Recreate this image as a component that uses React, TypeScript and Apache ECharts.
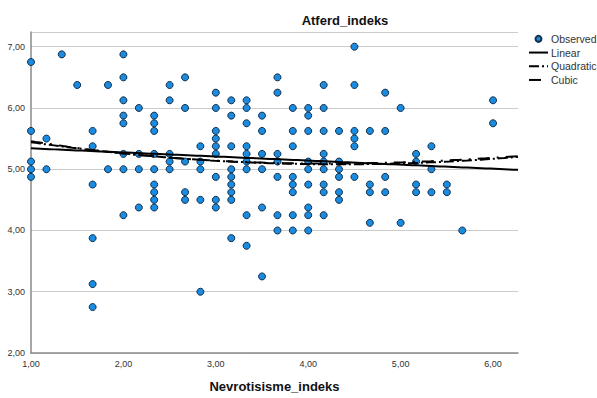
import React, { useEffect, useRef } from "react";
import * as echarts from "echarts";

const chartTitle = "Atferd_indeks";
const xAxisTitle = "Nevrotisisme_indeks";
const legendNames = ["Observed", "Linear", "Quadratic", "Cubic"];

// Distinct Nevrotisisme_indeks values (x) seen in the plot
const nevrotisismeLevels = [
  1.0, 1.167, 1.333, 1.5, 1.667, 1.833, 2.0, 2.167, 2.333, 2.5, 2.667, 2.833,
  3.0, 3.167, 3.333, 3.5, 3.667, 3.833, 4.0, 4.167, 4.333, 4.5, 4.667, 4.833,
  5.0, 5.167, 5.333, 5.5, 5.667, 6.0,
];

// Atferd_indeks values (y) observed at each level above
const atferdAtLevel = [
  [6.75, 5.625, 5.125, 5.0, 4.875],
  [5.5, 5.0],
  [6.875],
  [6.375],
  [5.625, 5.375, 4.75, 3.875, 3.125, 2.75],
  [6.375, 5.0],
  [6.875, 6.5, 6.125, 5.875, 5.75, 5.25, 5.0, 4.25],
  [6.0, 5.25, 5.0, 4.375],
  [5.875, 5.75, 5.625, 5.25, 5.0, 4.75, 4.625, 4.5, 4.375],
  [6.375, 6.125, 5.25, 5.125, 5.0],
  [6.5, 6.0, 5.125, 4.625, 4.5],
  [5.375, 5.125, 5.0, 4.5, 3.0],
  [6.25, 6.0, 5.625, 5.5, 5.375, 5.25, 4.875, 4.5, 4.375],
  [6.125, 5.875, 5.375, 5.0, 4.875, 4.75, 4.625, 4.5, 3.875],
  [6.125, 6.0, 5.75, 5.375, 5.25, 5.125, 5.0, 4.25, 3.75],
  [5.875, 5.625, 5.25, 5.0, 4.375, 3.25],
  [6.5, 6.25, 5.25, 5.125, 4.875, 4.25, 4.0],
  [6.0, 5.625, 5.375, 4.875, 4.75, 4.625, 4.25, 4.0],
  [6.0, 5.875, 5.625, 5.125, 5.0, 4.75, 4.375, 4.25, 4.0],
  [6.375, 6.0, 5.625, 5.25, 5.125, 5.0, 4.75, 4.625, 4.25],
  [5.625, 5.125, 5.0, 4.875, 4.625, 4.5],
  [7.0, 6.375, 5.625, 5.5, 5.375, 4.875],
  [5.625, 4.75, 4.625, 4.125],
  [6.25, 5.625, 4.875, 4.625],
  [6.0, 4.125],
  [5.25, 5.125, 4.75, 4.625],
  [5.375, 5.0, 4.625],
  [4.75, 4.625],
  [4.0],
  [6.125, 5.75],
];

// Fitted curve coefficients (constant, x, x^2, x^3)
const linearCoef = [5.407, -0.0665];
const quadraticCoef = [5.689, -0.2804, 0.0323];
const cubicCoef = [5.75, -0.34, 0.05, -0.0015];

const xMin = 1;
const xMax = 6.27;
const yMin = 2;
const yMax = 7.24;
const yTicks = ["2,00", "3,00", "4,00", "5,00", "6,00", "7,00"];

function evalPoly(coef: number[], x: number) {
  return coef.reduce((acc, c, i) => acc + c * Math.pow(x, i), 0);
}

function curve(coef: number[]) {
  const pts: number[][] = [];
  const n = 106;
  for (let i = 0; i <= n; i++) {
    const x = xMin + ((xMax - xMin) * i) / n;
    pts.push([x, evalPoly(coef, x)]);
  }
  return pts;
}

const fmt = (v: number) => v.toFixed(2).replace(".", ",");

export default function App() {
  const ref = useRef<HTMLDivElement>(null);
  useEffect(() => {
    if (!ref.current) return;
    const chart = echarts.init(ref.current, undefined, { renderer: "svg" });
    const observed: number[][] = [];
    nevrotisismeLevels.forEach((x, i) => {
      atferdAtLevel[i].forEach((y) => observed.push([x, y]));
    });
    const font = "'Liberation Sans', Arial, sans-serif";
    const hidden = { color: "rgba(0,0,0,0)", borderWidth: 0, borderColor: "rgba(0,0,0,0)" };
    chart.setOption({
      animation: false,
      backgroundColor: "#ffffff",
      textStyle: { fontFamily: font },
      title: {
        text: chartTitle,
        left: 345,
        textAlign: "center",
        top: 14,
        padding: 0,
        textStyle: { fontSize: 13, fontWeight: "bold", color: "#111", fontFamily: font },
      },
      legend: {
        data: [
          { name: legendNames[0] },
          { name: legendNames[1], itemStyle: hidden },
          { name: legendNames[2], itemStyle: hidden },
          { name: legendNames[3], itemStyle: hidden },
        ],
        orient: "vertical",
        left: 528,
        top: 32,
        padding: 0,
        itemGap: 0,
        itemWidth: 19,
        itemHeight: 6,
        textStyle: {
          fontSize: 10.5,
          lineHeight: 13.7,
          color: "#333",
          fontFamily: font,
          padding: [0, 0, 0, -2],
        },
      },
      grid: { left: 31, right: 79, top: 32, bottom: 41, containLabel: false },
      xAxis: {
        type: "value",
        min: xMin,
        max: xMax,
        interval: 1,
        name: xAxisTitle,
        nameLocation: "middle",
        nameGap: 27,
        nameTextStyle: { fontSize: 13, fontWeight: "bold", color: "#111", fontFamily: font },
        axisLine: { show: true, onZero: false, lineStyle: { color: "#8a8a8a", width: 1.5 } },
        axisTick: { show: false },
        splitLine: { show: false },
        axisLabel: {
          fontSize: 9,
          color: "#333",
          margin: 6,
          showMaxLabel: false,
          formatter: (v: number) => fmt(v),
        },
      },
      yAxis: {
        type: "value",
        min: yMin,
        max: yMax,
        interval: 1,
        axisLine: { show: true, onZero: false, lineStyle: { color: "#8a8a8a", width: 1.5 } },
        axisTick: { show: false },
        splitLine: { show: true, lineStyle: { color: "#cccccc", width: 1 } },
        axisLabel: {
          fontSize: 9,
          color: "#333",
          margin: 6,
          showMaxLabel: false,
          formatter: (v: number) => {
            const s = fmt(v);
            return yTicks.includes(s) ? s : "";
          },
        },
      },
      series: [
        {
          name: legendNames[0],
          type: "scatter",
          data: observed,
          symbol: "circle",
          symbolSize: 7,
          itemStyle: { color: "#1b8be0", borderColor: "#10304d", borderWidth: 1, opacity: 1 },
          z: 2,
        },
        {
          name: legendNames[1],
          type: "line",
          data: curve(linearCoef),
          symbol: "none",
          lineStyle: { color: "#000", width: 2, type: "solid" },
          itemStyle: hidden,
          z: 3,
        },
        {
          name: legendNames[2],
          type: "line",
          data: curve(quadraticCoef),
          symbol: "none",
          lineStyle: { color: "#000", width: 2, type: [10, 3, 2, 3] },
          itemStyle: hidden,
          z: 3,
        },
        {
          name: legendNames[3],
          type: "line",
          data: curve(cubicCoef),
          symbol: "none",
          lineStyle: { color: "#000", width: 2, type: [12, 7, 2, 7] },
          itemStyle: hidden,
          z: 3,
        },
      ],
    });
    return () => chart.dispose();
  }, []);
  return <div ref={ref} style={{ width: 597, height: 398, position: "absolute", left: 0, top: 0 }} />;
}
